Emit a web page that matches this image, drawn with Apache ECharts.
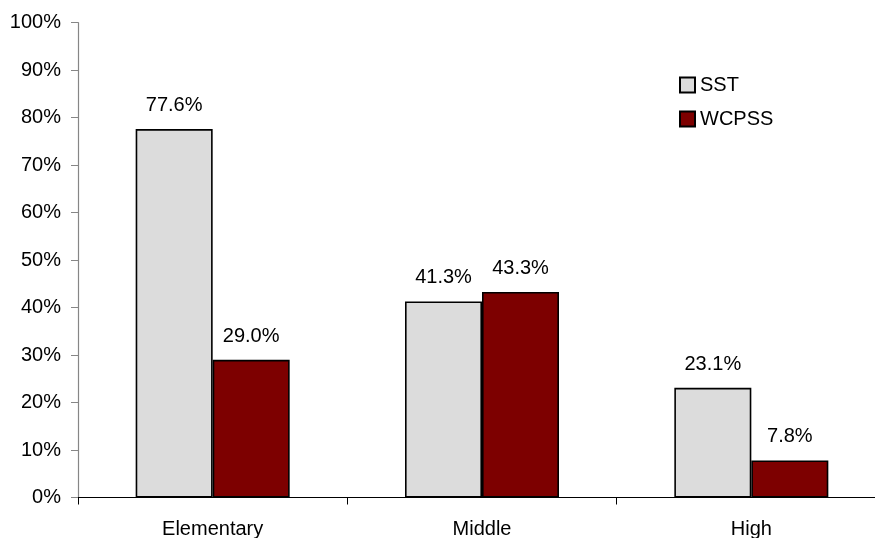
<!DOCTYPE html>
<html>
<head>
<meta charset="utf-8">
<script src="https://cdn.jsdelivr.net/npm/echarts@6/dist/echarts.min.js"></script>
<style>
  html, body { margin: 0; padding: 0; background: #fff; }
  #chart { width: 875px; height: 538px; }
</style>
</head>
<body>
<div id="chart"></div>
<script>
// School levels and the share for each program (percent)
const categories = ['Elementary', 'Middle', 'High'];
const sstValues = [77.6, 41.3, 23.1];
const wcpssValues = [29.0, 43.3, 7.8];
const seriesNames = ['SST', 'WCPSS'];
const yTicks = [0, 10, 20, 30, 40, 50, 60, 70, 80, 90, 100];

const FONT = '"Liberation Sans", Arial, sans-serif';

const chart = echarts.init(document.getElementById('chart'), null, { renderer: 'canvas' });

const labelStyle = {
  show: true,
  position: 'top',
  distance: 13.5,
  fontFamily: FONT,
  fontSize: 20,
  color: '#000',
  formatter: p => p.value.toFixed(1) + '%'
};

chart.setOption({
  animation: false,
  backgroundColor: '#fff',
  // the plot runs past the right edge of the canvas, so the last band is cut off
  grid: {
    left: 78, width: 808, top: 22.7, bottom: 40.5,
    containLabel: false, outerBoundsMode: 'none'
  },
  legend: {
    orient: 'vertical',
    left: 679,
    top: 75,
    padding: 0,
    itemWidth: 15,
    itemHeight: 15,
    itemGap: 14,
    icon: 'rect',
    textStyle: { fontFamily: FONT, fontSize: 20, color: '#000', padding: [0, 0, 0, 0] },
    data: seriesNames
  },
  xAxis: {
    type: 'category',
    data: categories,
    axisLine: { lineStyle: { color: '#000', width: 1.2 } },
    axisTick: { show: true, alignWithLabel: false, length: 7, lineStyle: { color: '#000' } },
    axisLabel: { fontFamily: FONT, fontSize: 20, color: '#000', margin: 21.5 }
  },
  yAxis: {
    type: 'value',
    min: yTicks[0],
    max: yTicks[yTicks.length - 1],
    interval: 10,
    axisLine: { show: true, lineStyle: { color: '#868686', width: 1.2 } },
    axisTick: { show: true, length: 7, lineStyle: { color: '#868686' } },
    splitLine: { show: false },
    axisLabel: { fontFamily: FONT, fontSize: 20, color: '#000', margin: 17, formatter: v => v + '%' }
  },
  series: [
    {
      name: seriesNames[0],
      type: 'bar',
      data: sstValues,
      barWidth: 77,
      barGap: '0%',
      itemStyle: { color: '#dcdcdc', borderColor: '#000', borderWidth: 1.6 },
      label: labelStyle
    },
    {
      name: seriesNames[1],
      type: 'bar',
      data: wcpssValues,
      barWidth: 77,
      barGap: '0%',
      itemStyle: { color: '#7d0000', borderColor: '#000', borderWidth: 1.6 },
      label: labelStyle
    }
  ]
});
</script>
</body>
</html>
